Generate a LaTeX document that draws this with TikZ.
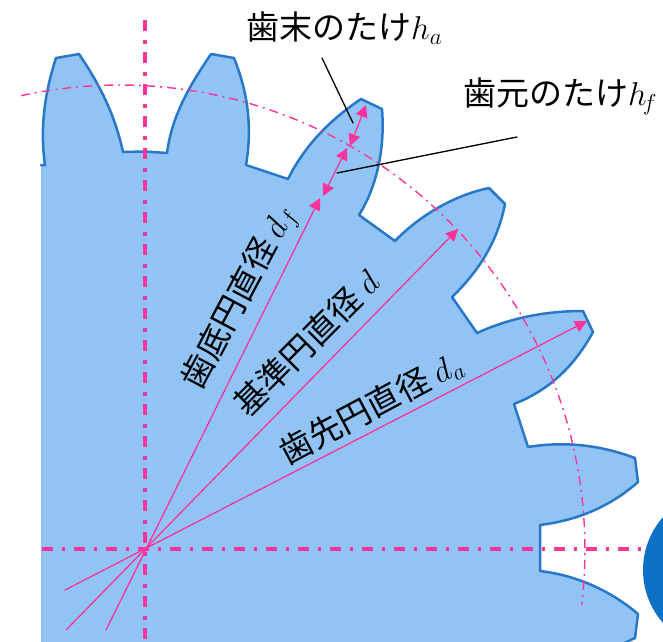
\documentclass[tikz,border=0pt]{standalone}
\usepackage{fix-cm}
\usepackage{fontspec}
\setmainfont{Noto Sans CJK JP}
\usetikzlibrary{arrows.meta}
\definecolor{ffttaa}{rgb}{1,0.2,0.6}
\definecolor{ggbbff}{rgb}{0.57,0.77,0.96}
\definecolor{ttmmcc}{rgb}{0.16,0.47,0.78}
\definecolor{qqmmcc}{rgb}{0.06,0.44,0.78}
\newcommand{\gearedge}{(41,165) -- (45,165)
  .. controls (40,130) and (44,95) .. (56,58) -- (79,54)
  .. controls (100,85) and (115,115) .. (123,152) -- (145,151.5) -- (167,153)
  .. controls (172,115) and (190,85) .. (211,54) -- (234,58)
  .. controls (249,95) and (252,130) .. (246,165) -- (288,179)
  .. controls (305,145) and (330,120) .. (361,99) -- (382,109)
  .. controls (385,145) and (378,185) .. (359,215) -- (395,241)
  .. controls (420,215) and (455,195) .. (489,188) -- (505,204)
  .. controls (498,240) and (480,270) .. (452,297) -- (477,333)
  .. controls (510,318) and (545,311) .. (583,311) -- (593,332)
  .. controls (575,365) and (550,390) .. (514,404) -- (528,447)
  .. controls (565,441) and (600,445) .. (635,458) -- (638,482)
  .. controls (612,505) and (580,520) .. (540,525) -- (540,571)
  .. controls (575,575) and (610,590) .. (638,614) -- (635,638) -- (620,645)}
\tikzset{
  center line/.style={color=ffttaa,line width=3.4pt,line cap=butt,dash pattern=on 11pt off 9pt on 3.5pt off 8.5pt},
  pitch line/.style={color=ffttaa,line width=1.4pt,line cap=butt,dash pattern=on 9pt off 5pt on 2pt off 5pt},
  dim line/.style={color=ffttaa,line width=1.3pt},
  dim tip/.style={-{Triangle[length=12pt,width=12pt]}},
  dim both/.style={{Triangle[length=12pt,width=12pt]}-{Triangle[length=12pt,width=12pt]}},
  lead line/.style={color=black,line width=1.3pt},
  big label/.style={font=\fontsize{33}{34}\selectfont,inner sep=0pt,anchor=west},
  gear label/.style={font=\fontsize{33}{34}\selectfont,inner sep=0pt}
}
\begin{document}
\begin{tikzpicture}[line cap=round,line join=round,x=1pt,y=-1pt]
\useasboundingbox (0,0) rectangle (663,641);
\clip (0,0) rectangle (663,641);
% gear body
\fill [color=ggbbff] \gearedge -- (41,645) -- cycle;
\draw [color=ttmmcc,line width=2.5pt] \gearedge;
\fill [color=qqmmcc] (723,570) circle (80);
% center lines
\coordinate (O) at (145,549);
\coordinate (vtop) at (145,20);
\coordinate (vbot) at (145,641);
\coordinate (hleft) at (41.5,549);
\coordinate (hright) at (643,549);
\draw [center line] (vtop) -- (vbot);
\draw [center line] (hleft) -- (hright);
\coordinate (pitchstart) at (20.9,95.7);
\draw [pitch line] (pitchstart) arc [start angle=102.3,end angle=-6.8,radius=465pt];
% radial lines
\coordinate (daend) at (65,590);
\coordinate (datip) at (587,321);
\coordinate (dend) at (66,630);
\coordinate (dtip) at (458,229);
\coordinate (dfend) at (106,630);
\coordinate (dftip) at (320,198);
\draw [dim line,dim tip] (daend) -- (datip);
\draw [dim line,dim tip] (dend) -- (dtip);
\draw [dim line,dim tip] (dfend) -- (dftip);
\coordinate (hfa) at (323,196);
\coordinate (hfb) at (347,148);
\coordinate (hab) at (350,146);
\coordinate (haa) at (366,105);
\draw [dim line,dim both] (hfa) -- (hfb);
\draw [dim line,dim both] (hab) -- (haa);
% leaders
\coordinate (haleft) at (322,58);
\coordinate (haright) at (353,123);
\coordinate (hfleft) at (517,137);
\coordinate (hfright) at (337,173);
\draw [lead line] (haleft) -- (haright);
\draw [lead line] (hfleft) -- (hfright);
% labels
\node [big label] (halabel) at (246,28) {歯末のたけ$h_{a}$};
\node [big label] (hflabel) at (463,96) {歯元のたけ$h_{\!f}$};
\node [gear label,rotate=62] (dflabel) at (240,298) {歯底円直径\hspace{6pt}$d_{f}$};
\node [gear label,rotate=45] (dlabel) at (306,343) {基準円直径 $d$};
\node [gear label,rotate=28] (dalabel) at (371,408) {歯先円直径\hspace{7pt}$d_{a}$};
\end{tikzpicture}
\end{document}
